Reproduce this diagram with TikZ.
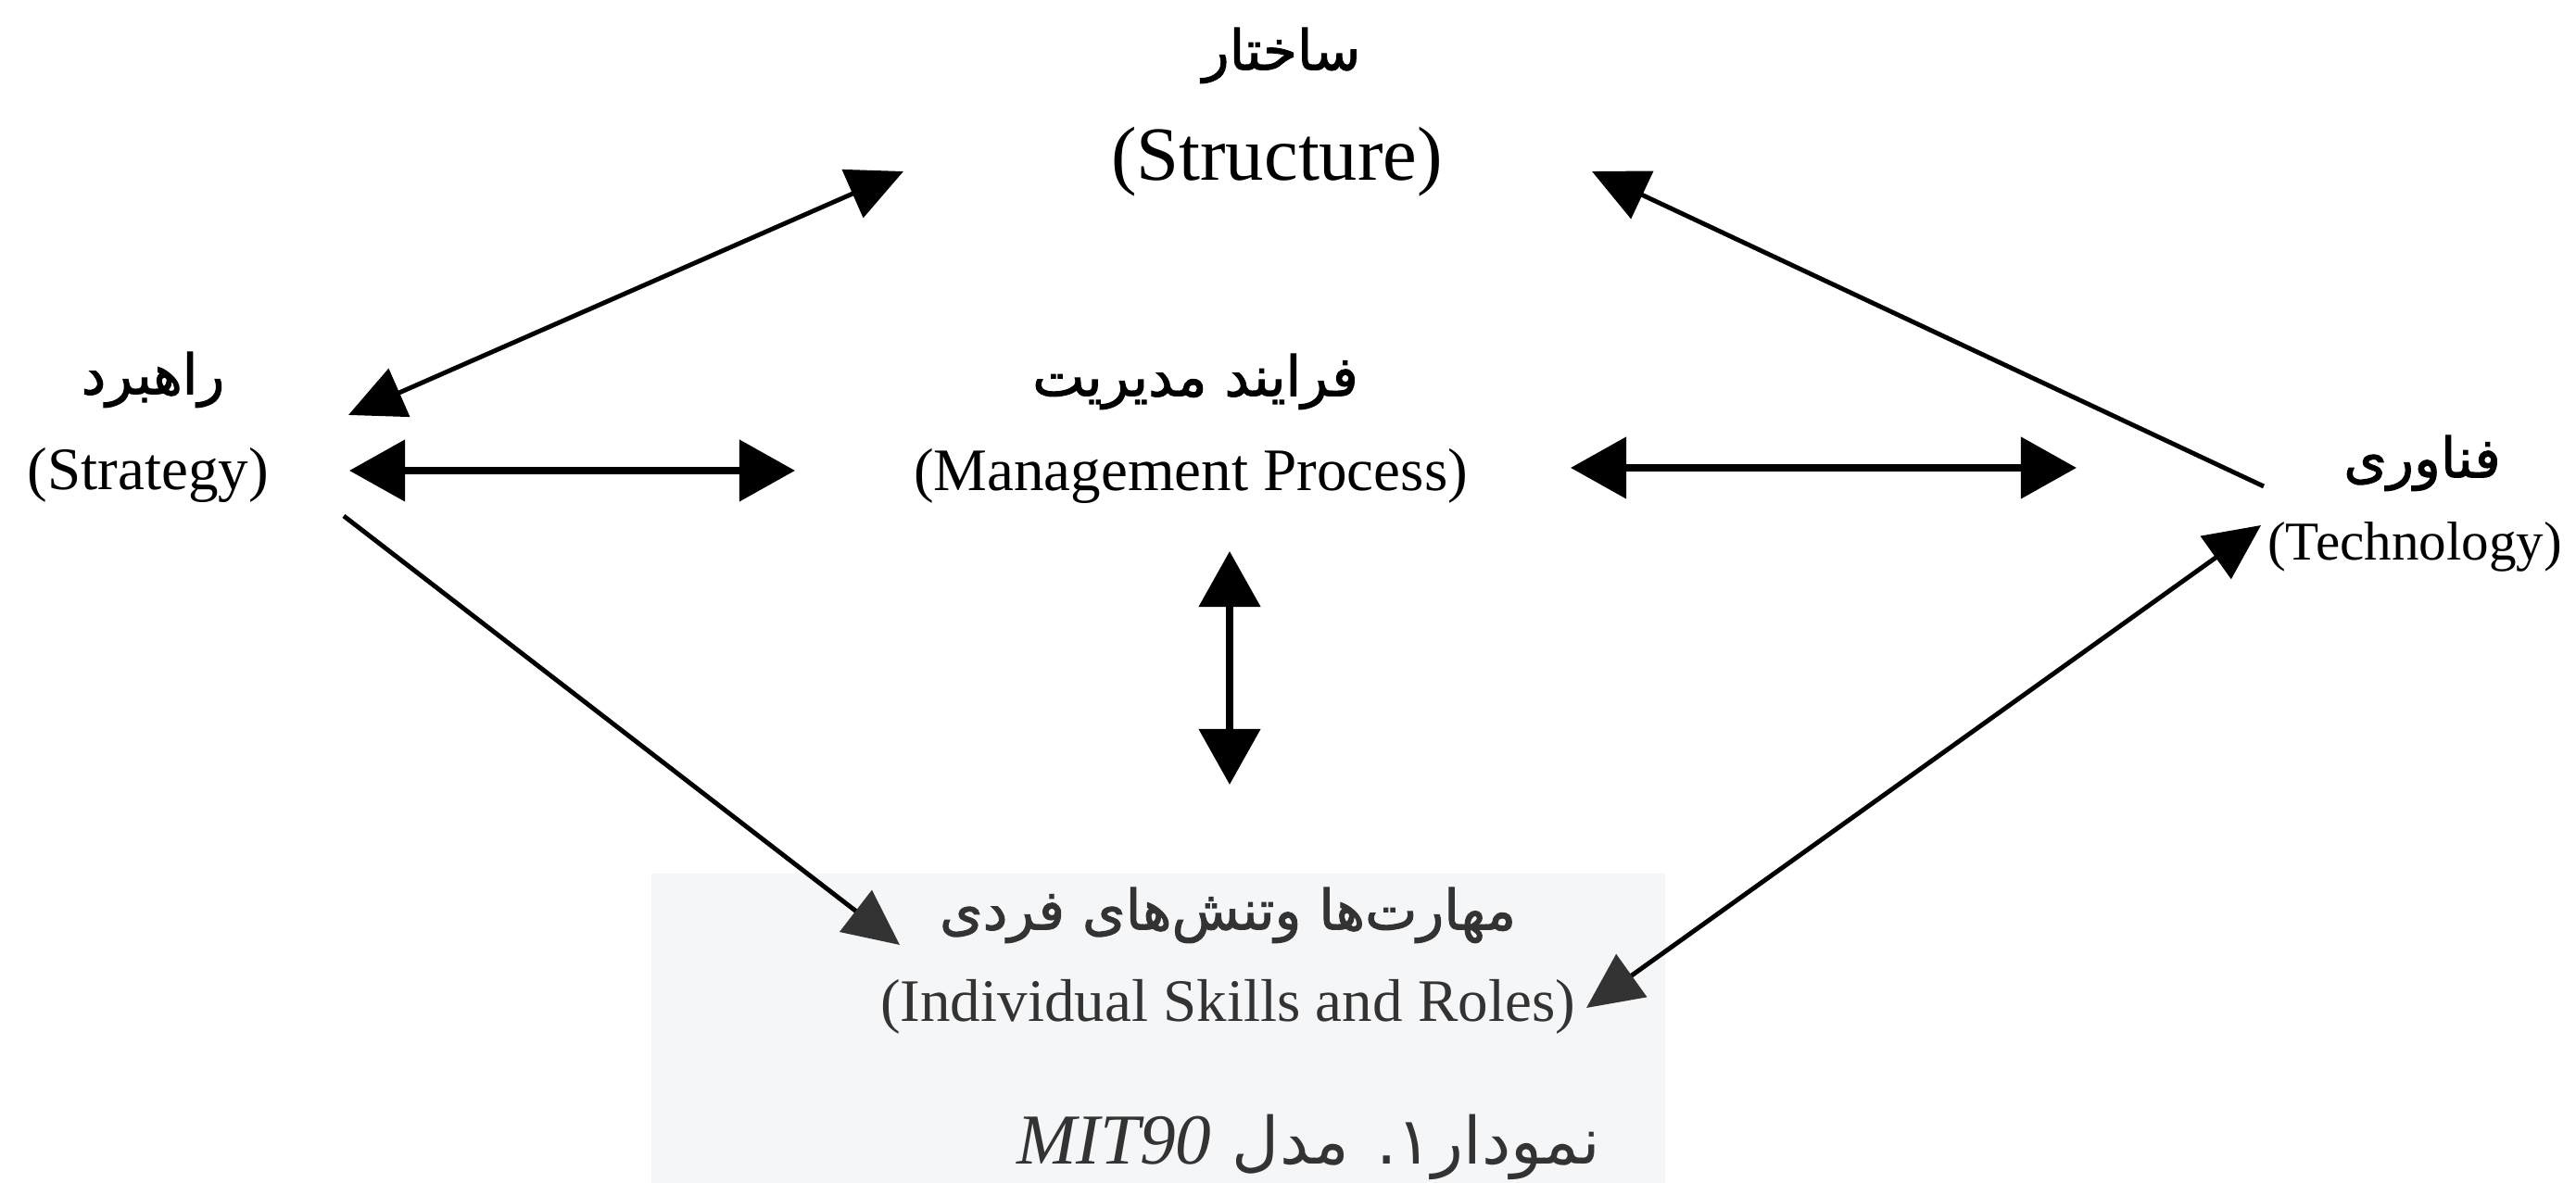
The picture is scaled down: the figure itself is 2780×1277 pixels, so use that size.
\documentclass[tikz,border=0pt]{standalone}
\usepackage{fontspec}
\setmainfont{Liberation Serif}
\newfontfamily\fab[Script=Arabic,FakeBold=1.6]{DejaVu Sans}
\newfontfamily\fat[Script=Arabic]{DejaVu Sans}
\TeXXeTstate=1
\usetikzlibrary{arrows.meta}
\definecolor{ink}{HTML}{000000}
\definecolor{shade}{HTML}{333333}
\definecolor{wmark}{HTML}{F4F6F8}
\tikzset{
  en/.style={inner sep=0pt, text=ink, font=\fontsize{18.5}{20}\selectfont},
  pers/.style={inner sep=0pt, text=ink, font=\fab\fontsize{17}{19}\selectfont},
  dbl/.style={{Triangle[length=6mm,width=6.5mm]}-{Triangle[length=6mm,width=6.5mm]}, line width=2.2pt, draw=ink},
  dbldiag/.style={{Triangle[length=6mm,width=5.6mm]}-{Triangle[length=6mm,width=5.6mm]}, line width=1.4pt, draw=ink},
  onediag/.style={-{Triangle[length=6mm,width=5.6mm]}, line width=1.4pt, draw=ink}
}
\begin{document}
\begin{tikzpicture}[x=0.01cm, y=-0.01cm]
\useasboundingbox (0,0) rectangle (2780,1277);
% pale panel behind the bottom label
\fill[wmark] (703,943) rectangle (1797,1277);

% labels
\node[pers] (strP) at (1383,60) {\beginR ساختار\endR};
\node[en, font=\fontsize{23.5}{25}\selectfont] (str) at (1378,175) {(Structure)};
\node[pers] (stgP) at (165,410) {\beginR راهبرد\endR};
\node[en] (stg) at (160,513) {(Strategy)};
\node[pers] (mgmP) at (1290,412) {\beginR فرایند مدیریت\endR};
\node[en] (mgm) at (1285,514) {(Management Process)};
\node[pers] (tecP) at (2614,500) {\beginR فناوری\endR};
\node[en, font=\fontsize{16.8}{18}\selectfont] (tec) at (2606,590) {(Technology)};
\node[pers, text=shade] (sklP) at (1325,988) {\beginR مهارت‌ها وتنش‌های فردی\endR};
\node[en, text=shade] (skl) at (1325,1087) {(Individual Skills and Roles)};
\node[inner sep=0pt, text=shade, font=\fat\fontsize{20}{22}\selectfont] (cap) at (1412,1238)
  {\beginR نمودار۱. مدل \beginL{\normalfont\itshape\fontsize{22}{24}\selectfont MIT90}\endL\endR};

% arrow ends
\coordinate (stg-up) at (376,448);
\coordinate (str-left) at (975,185);
\coordinate (stg-right) at (377,508);
\coordinate (mgm-left) at (858,508);
\coordinate (mgm-right) at (1695,505);
\coordinate (tec-left) at (2241,505);
\coordinate (mgm-down) at (1327,595);
\coordinate (skl-up) at (1327,847);
\coordinate (tec-up) at (2443,525);
\coordinate (str-right) at (1718,185);
\coordinate (stg-down) at (371,557);
\coordinate (skl-left) at (971,1020);
\coordinate (tec-down) at (2440,567);
\coordinate (skl-right) at (1712,1088);

% connectors
\draw[dbldiag] (stg-up) -- (str-left);
\draw[dbl] (stg-right) -- (mgm-left);
\draw[dbl] (mgm-right) -- (tec-left);
\draw[dbl] (mgm-down) -- (skl-up);
\draw[onediag] (tec-up) -- (str-right);
\draw[line width=1.4pt, draw=ink, -{Triangle[length=6mm,width=5.6mm,color=shade]}] (stg-down) -- (skl-left);
\draw[line width=1.4pt, draw=ink, {Triangle[length=6mm,width=5.6mm,color=shade]}-{Triangle[length=6mm,width=5.6mm]}] (skl-right) -- (tec-down);
\end{tikzpicture}
\end{document}
